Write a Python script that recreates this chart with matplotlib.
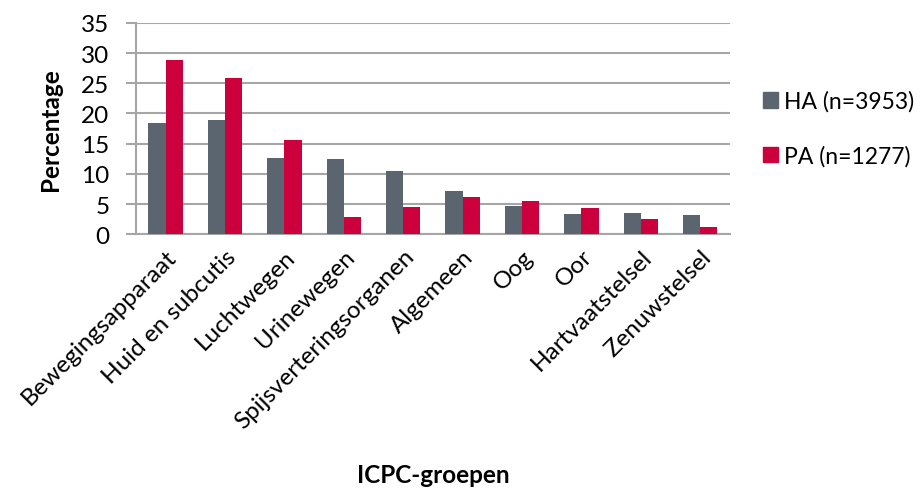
import numpy as np
from matplotlib import pyplot as plt
from matplotlib.patches import Patch

categories = ['Bewegingsapparaat', 'Huid en subcutis', 'Luchtwegen', 'Urinewegen',
              'Spijsverteringsorganen', 'Algemeen', 'Oog', 'Oor', 'Hartvaatstelsel', 'Zenuwstelsel']
ha_values = [18.5, 19.0, 12.6, 12.4, 10.5, 7.2, 4.7, 3.4, 3.5, 3.2]
pa_values = [28.9, 25.8, 15.6, 2.8, 4.5, 6.2, 5.5, 4.3, 2.5, 1.2]
yticks = [0, 5, 10, 15, 20, 25, 30, 35]

ha_color = '#5B6570'
pa_color = '#CC003D'
grid_color = '#A6A6A6'

plt.rcParams['font.family'] = ['Lato', 'DejaVu Sans']
fs = 17.5

fig = plt.figure(figsize=(9.24, 4.89), dpi=100)
ax = fig.add_axes([0.147, 0.519, 0.643, 0.432])

x = np.arange(len(categories))
w = 0.29
ax.bar(x - w / 2, ha_values, w, color=ha_color, zorder=3)
ax.bar(x + w / 2, pa_values, w, color=pa_color, zorder=3)

ax.set_xlim(-0.5, len(categories) - 0.5)
ax.set_ylim(0, 35)
ax.set_yticks(yticks)
ax.yaxis.grid(True, color=grid_color, linewidth=1.5, zorder=0)
ax.set_axisbelow(True)

for side in ['top', 'right']:
    ax.spines[side].set_visible(False)
for side in ['left', 'bottom']:
    ax.spines[side].set_color(grid_color)
    ax.spines[side].set_linewidth(1.5)

ax.tick_params(axis='y', length=7, width=1.5, color=grid_color, labelsize=fs, pad=12)
ax.tick_params(axis='x', length=0, labelsize=fs, pad=8)
ax.set_xticks(x)
ax.set_xticklabels(categories, rotation=45, ha='right', rotation_mode='anchor')

ax.set_ylabel('Percentage', fontsize=fs, fontweight='bold', labelpad=14)
fig.text(0.469, 0.012, 'ICPC-groepen', fontsize=fs, fontweight='bold', ha='center')

handles = [Patch(color=ha_color, label='HA (n=3953)'), Patch(color=pa_color, label='PA (n=1277)')]
fig.legend(handles=handles, loc='upper left', bbox_to_anchor=(0.826, 0.813), frameon=False,
           fontsize=16.5, labelspacing=1.45, handlelength=0.65, handleheight=0.65, handletextpad=0.25,
           borderaxespad=0, borderpad=0)

plt.savefig('out.png', dpi=100)
